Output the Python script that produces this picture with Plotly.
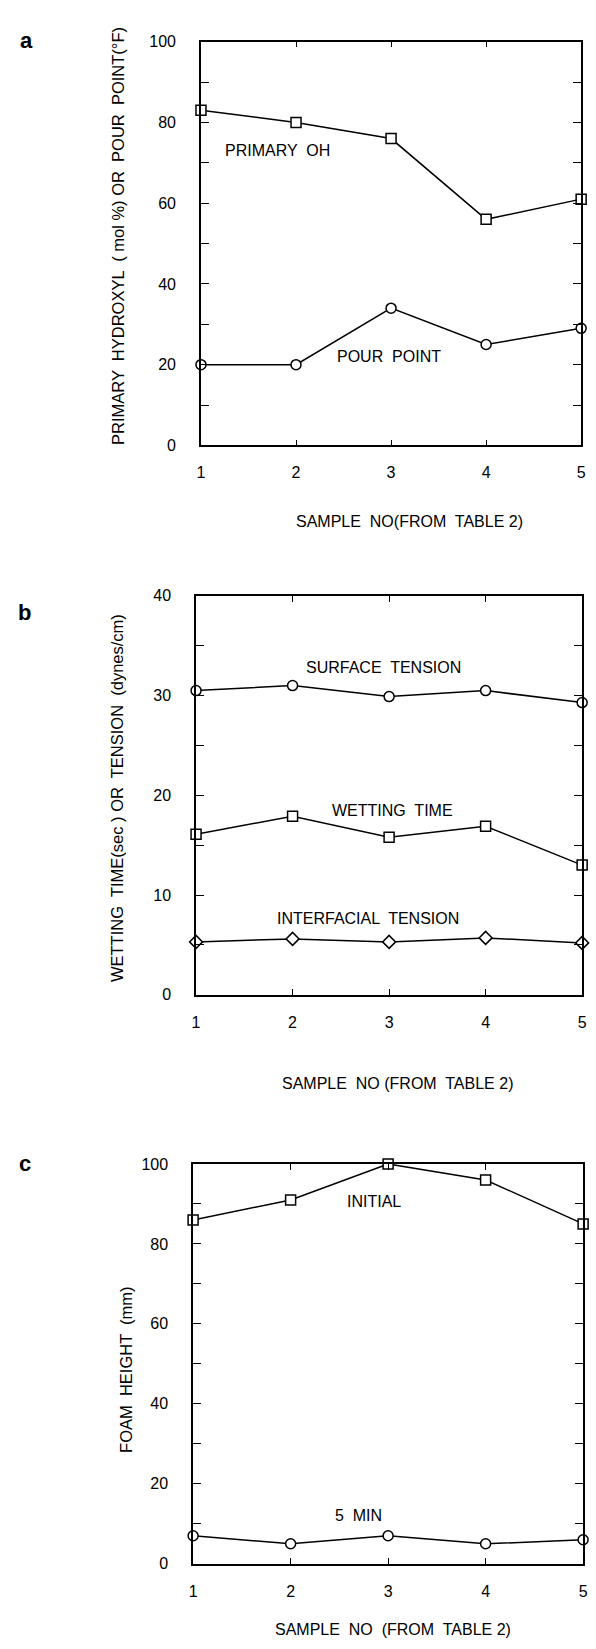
import plotly.graph_objects as go

W, H = 596, 1649

# ---- data ----
samples = [1, 2, 3, 4, 5]
sample_labels = ["1", "2", "3", "4", "5"]

# a: primary hydroxyl (mol %) and pour point (deg F)
primary_oh = [83, 80, 76, 56, 61]
pour_point = [20, 20, 34, 25, 29]

# b: wetting time (sec) and tensions (dynes/cm)
surface_tension = [30.5, 31.0, 29.9, 30.5, 29.3]
wetting_time = [16.1, 17.9, 15.8, 16.9, 13.0]
interfacial_tension = [5.3, 5.6, 5.3, 5.7, 5.2]

# c: foam height (mm)
foam_initial = [86, 91, 100, 96, 85]
foam_5min = [7, 5, 7, 5, 6]

FONT = "Liberation Sans"


def px(x):
    return x / W


def py(y):
    return 1 - y / H


def line(x, y, symbol, axis):
    return go.Scatter(
        x=x, y=y, mode="lines+markers", xaxis="x" + axis, yaxis="y" + axis,
        line=dict(color="black", width=1.5),
        marker=dict(symbol=symbol, size=10, color="white",
                    line=dict(color="black", width=1.5)),
        cliponaxis=False, showlegend=False, hoverinfo="skip",
    )


fig = go.Figure()
fig.add_trace(line(samples, primary_oh, "square", ""))
fig.add_trace(line(samples, pour_point, "circle", ""))
fig.add_trace(line(samples, surface_tension, "circle", "2"))
fig.add_trace(line(samples, wetting_time, "square", "2"))
fig.add_trace(line(samples, interfacial_tension, "diamond", "2"))
fig.add_trace(line(samples, foam_initial, "square", "3"))
fig.add_trace(line(samples, foam_5min, "circle", "3"))


def xax(domain, anchor):
    return dict(domain=domain, anchor=anchor, range=[1, 5],
                tickvals=samples, ticktext=sample_labels,
                ticks="inside", ticklen=6, tickwidth=1.3, tickcolor="black",
                showline=True, linecolor="black", linewidth=1.5, mirror="ticks",
                showgrid=False, zeroline=False, ticklabelstandoff=12,
                ticklabeloverflow="allow",
                tickfont=dict(family=FONT, size=16, color="black"))


def yax(domain, anchor, top, step, label_step):
    vals = list(range(0, top + 1, step))
    text = [str(v) if v % label_step == 0 else "" for v in vals]
    return dict(domain=domain, anchor=anchor, range=[0, top],
                tickvals=vals, ticktext=text,
                ticks="inside", ticklen=8, tickwidth=1.3, tickcolor="black",
                showline=True, linecolor="black", linewidth=1.5, mirror="ticks",
                showgrid=False, zeroline=False, ticklabelstandoff=20,
                tickfont=dict(family=FONT, size=16, color="black"))


fig.update_layout(
    width=W, height=H, margin=dict(l=0, r=0, t=0, b=0),
    paper_bgcolor="white", plot_bgcolor="white",
    xaxis=xax([px(200), px(586)], "y"),
    yaxis=yax([py(442), py(34)], "x", 100, 10, 20),
    xaxis2=xax([px(195), px(587)], "y2"),
    yaxis2=yax([py(997), py(594)], "x2", 40, 5, 10),
    xaxis3=xax([px(192), px(588)], "y3"),
    yaxis3=yax([py(1572), py(1168)], "x3", 100, 10, 20),
)

anns = []


def note(text, x, y, axis, size=16):
    anns.append(dict(text=text, x=x, y=y, xref="x" + axis, yref="y" + axis,
                     xanchor="center", yanchor="middle", showarrow=False,
                     font=dict(family=FONT, size=size, color="black")))


def paper_text(text, x, y, size=16, angle=0, bold=False):
    anns.append(dict(text="<b>%s</b>" % text if bold else text,
                     x=px(x), y=py(y), xref="paper", yref="paper",
                     xanchor="center", yanchor="middle",
                     showarrow=False, textangle=angle,
                     font=dict(family=FONT, size=size, color="black")))


# in-plot series labels
note("PRIMARY  OH", 1.81, 73, "")
note("POUR  POINT", 2.98, 22, "")
note("SURFACE  TENSION", 2.94, 32.8, "2")
note("WETTING  TIME", 3.04, 18.5, "2")
note("INTERFACIAL  TENSION", 2.78, 7.6, "2")
note("INITIAL", 2.86, 90.6, "3")
note("5  MIN", 2.70, 12.1, "3")

# axis titles
paper_text("SAMPLE  NO(FROM  TABLE 2)", 412, 519)
paper_text("SAMPLE  NO (FROM  TABLE 2)", 400, 1087)
paper_text("SAMPLE  NO  (FROM  TABLE 2)", 395, 1638)
paper_text("PRIMARY  HYDROXYL  ( mol %) OR  POUR  POINT(°F)", 115, 230, size=16.5, angle=-90)
paper_text("WETTING  TIME(sec ) OR  TENSION  (dynes/cm)", 114, 798, size=16.5, angle=-90)
paper_text("FOAM  HEIGHT  (mm)", 124, 1376, size=16.5, angle=-90)

# panel letters
paper_text("a", 23, 33, size=22, bold=True)
paper_text("b", 21, 611, size=22, bold=True)
paper_text("c", 21, 1168, size=22, bold=True)

fig.update_layout(annotations=anns)
fig.write_html("out.html", config={"displayModeBar": False},
               post_script="document.body.style.margin='0';"
                           "document.body.style.overflow='hidden';")
